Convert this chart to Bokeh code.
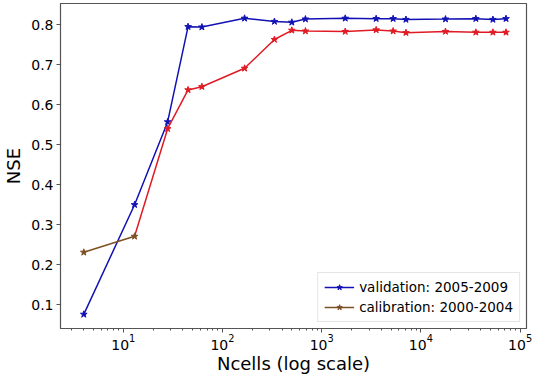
from bokeh.plotting import figure
from bokeh.models import Range1d, FixedTicker, Legend, LegendItem
from bokeh.embed import file_html
from bokeh.resources import INLINE

ncells = [4, 13, 28, 45, 62, 167, 334, 500, 686, 1727, 3540, 5250, 7070, 17700, 35800, 53200, 72100]
validation = [0.076, 0.350, 0.557, 0.795, 0.794, 0.816, 0.808, 0.806, 0.814, 0.816, 0.815, 0.815, 0.813, 0.814, 0.815, 0.813, 0.815]
calibration = [0.231, 0.271, 0.540, 0.637, 0.645, 0.691, 0.763, 0.786, 0.784, 0.783, 0.787, 0.784, 0.780, 0.783, 0.781, 0.781, 0.781]
y_ticks = [0.1, 0.2, 0.3, 0.4, 0.5, 0.6, 0.7, 0.8]

FONT = "DejaVu Sans"
BLUE = "#1212b4"
RED = "#e01b24"
BROWN = "#7d4f24"

p = figure(width=534, height=376, x_axis_type="log", output_backend="svg",
           toolbar_location=None,
           x_range=Range1d(2.33, 116000), y_range=Range1d(0.0406, 0.853),
           min_border_left=54, min_border_right=8, min_border_top=3, min_border_bottom=45)

p.xgrid.visible = False
p.ygrid.visible = False
p.outline_line_color = "#555555"
p.outline_line_width = 1.2
p.background_fill_color = "white"
p.border_fill_color = "white"

# validation
vl = p.line(ncells, validation, line_color=BLUE, line_width=1.5)
vm = p.scatter(ncells, validation, marker="star", size=7, color=BLUE)

# calibration: brown first segment, red afterwards
cl = p.line(ncells[:2], calibration[:2], line_color=BROWN, line_width=1.5)
rl = p.line(ncells[1:], calibration[1:], line_color=RED, line_width=1.5)
rm = p.scatter(ncells[2:], calibration[2:], marker="star", size=7, color=RED)
cm = p.scatter(ncells[:2], calibration[:2], marker="star", size=7, color=BROWN)

p.yaxis.ticker = FixedTicker(ticks=y_ticks)

for ax in (p.xaxis[0], p.yaxis[0]):
    ax.axis_line_color = "#555555"
    ax.major_tick_line_color = "#555555"
    ax.minor_tick_line_color = "#555555"
    ax.major_label_text_font = FONT
    ax.major_label_text_font_size = "14px"
    ax.major_label_text_color = "black"
    ax.axis_label_text_font = FONT
    ax.axis_label_text_font_size = "18px"
    ax.axis_label_text_font_style = "normal"
    ax.axis_label_text_color = "black"
    ax.axis_label_text_line_height = 1.0
    ax.major_tick_out = 4
    ax.major_tick_in = 0
    ax.minor_tick_out = 2
    ax.minor_tick_in = 0

p.yaxis.minor_tick_line_color = None
p.xaxis.axis_label = "Ncells (log scale)"
p.yaxis.axis_label = "NSE"
p.xaxis.axis_label_standoff = 0
p.yaxis.axis_label_standoff = 4
p.xaxis.major_label_standoff = 1
p.yaxis.major_label_standoff = 3

legend = Legend(items=[
    LegendItem(label="validation: 2005-2009", renderers=[vl, vm]),
    LegendItem(label="calibration: 2000-2004", renderers=[cl, cm]),
], location="bottom_right")
legend.label_text_font = FONT
legend.label_text_font_size = "13.5px"
legend.label_text_color = "black"
legend.glyph_width = 30
legend.glyph_height = 14
legend.label_height = 14
legend.spacing = 4
legend.padding = 6
legend.margin = 6
legend.border_line_color = "#cccccc"
legend.border_line_width = 1
legend.background_fill_alpha = 0.8
p.add_layout(legend)

open("out.html", "w").write(file_html(p, INLINE))
